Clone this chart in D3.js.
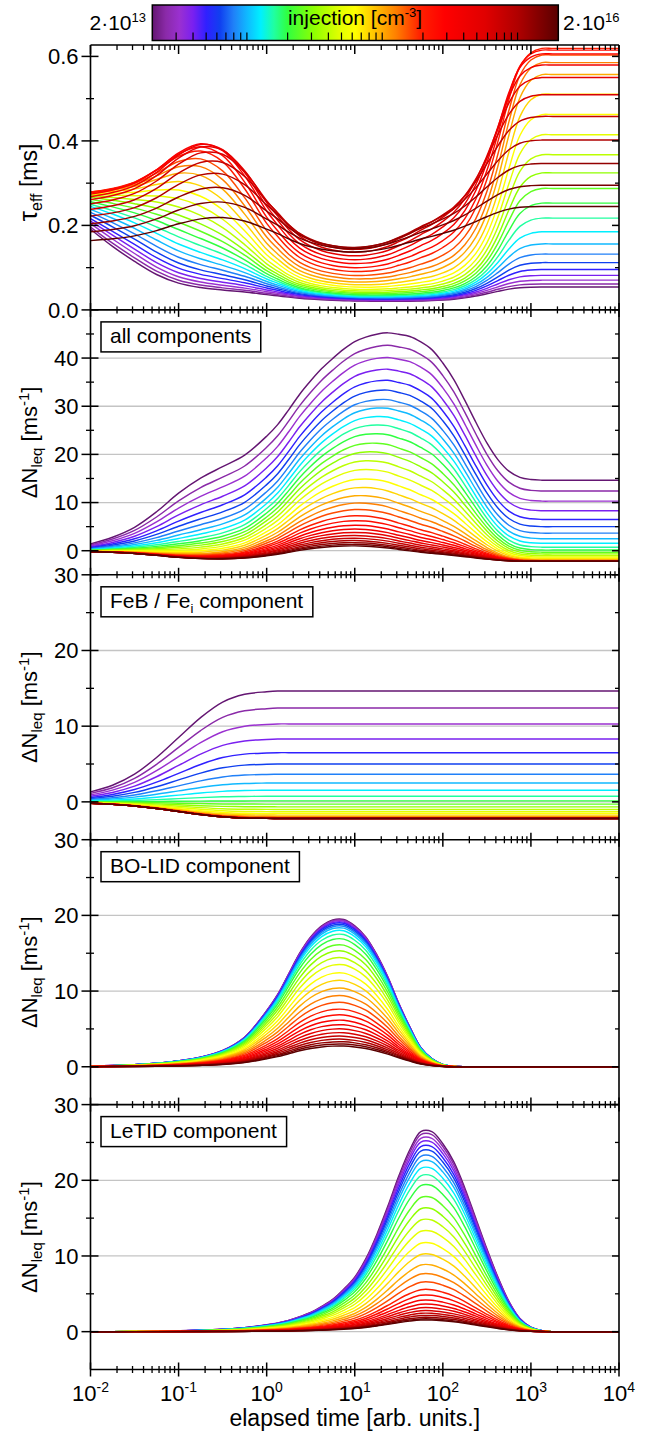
<!DOCTYPE html>
<html>
<head>
<meta charset="utf-8">
<script src="https://cdn.jsdelivr.net/npm/d3@7"></script>
<style>
body { margin: 0; background: #fff; }
svg text, svg tspan { font-family: "Liberation Sans", Arial, sans-serif; fill: #000; }
</style>
</head>
<body>
<svg id="chart" width="652" height="1435"></svg>
<script>
// ---- data ----
// log10 of elapsed time where the curves are sampled
var logT = [-2, -1.75, -1.5, -1.25, -1, -0.75, -0.5, -0.25, 0, 0.125, 0.25, 0.375, 0.5, 0.625, 0.75, 0.875,
            1, 1.125, 1.25, 1.375, 1.5, 1.625, 1.75, 1.875, 2, 2.125, 2.25, 2.375, 2.5, 2.625, 2.75, 2.875,
            3, 3.125, 3.25, 3.5, 4];

// normalised time course of each component panel (same sampling as logT)
var febShape = [0.09, 0.15, 0.25, 0.40, 0.58, 0.76, 0.90, 0.97, 0.993, 1, 1, 1, 1, 1, 1, 1,
                1, 1, 1, 1, 1, 1, 1, 1, 1, 1, 1, 1, 1, 1, 1, 1,
                1, 1, 1, 1, 1];
var boShape = [0.004, 0.008, 0.014, 0.024, 0.04, 0.065, 0.11, 0.2, 0.38, 0.49, 0.63, 0.77, 0.88, 0.955, 0.995, 0.998,
               0.955, 0.88, 0.76, 0.61, 0.43, 0.27, 0.13, 0.055, 0.015, 0.003, 0, 0, 0, 0, 0, 0,
               0, 0, 0, 0, 0];
var letidShape = [0, 0, 0.001, 0.002, 0.004, 0.007, 0.012, 0.02, 0.034, 0.043, 0.056, 0.074, 0.095, 0.125, 0.16, 0.21,
                  0.27, 0.36, 0.48, 0.62, 0.77, 0.9, 0.99, 0.99, 0.93, 0.84, 0.71, 0.56, 0.41, 0.27, 0.15, 0.065,
                  0.022, 0.005, 0, 0, 0];

// time course of the three parts as they show up in the "all components" panel
var febAllShape = [0.09, 0.17, 0.29, 0.48, 0.70, 0.86, 0.95, 0.985, 0.997, 1, 1, 1, 1, 1, 1, 1,
                   1, 1, 1, 1, 1, 1, 1, 1, 1, 1, 1, 1, 1, 1, 1, 1,
                   1, 1, 1, 1, 1];
var letidAllShape = [0, 0.006, 0.013, 0.022, 0.034, 0.045, 0.052, 0.057, 0.066, 0.074, 0.087, 0.106, 0.13, 0.17, 0.22, 0.29,
                     0.38, 0.47, 0.58, 0.70, 0.82, 0.92, 0.98, 0.975, 0.9, 0.78, 0.62, 0.45, 0.29, 0.16, 0.07, 0.022,
                     0.005, 0, 0, 0, 0];

// one entry per injection level, 2e13 ... 2e16 cm^-3 (purple -> dark red)
var tauStart = [0.191, 0.196, 0.204, 0.210, 0.216, 0.224, 0.231, 0.238, 0.245, 0.250, 0.256, 0.262, 0.267, 0.271, 0.274, 0.276,
                0.278, 0.279, 0.279, 0.279, 0.279, 0.277, 0.274, 0.268, 0.261, 0.251, 0.238, 0.222, 0.204, 0.185, 0.164];
var febPlateau = [14.65, 12.4, 10.3, 8.3, 6.5, 5.0, 3.65, 2.5, 1.54, 0.74, 0.13, -0.3, -0.66, -1.0, -1.3, -1.55,
                  -1.75, -1.92, -2.02, -2.08, -2.13, -2.15, -2.17, -2.18, -2.19, -2.2, -2.2, -2.2, -2.2, -2.2, -2.2];
var boPeak = [19.5, 19.4, 19.3, 19.15, 19.0, 18.8, 18.6, 18.35, 18.0, 17.5, 16.9, 16.1, 15.3, 14.4, 13.5, 12.4,
              11.4, 10.4, 9.4, 8.5, 7.6, 6.85, 6.15, 5.55, 5.0, 4.5, 4.05, 3.65, 3.3, 3.0, 2.74];
var letidPeak = [26.7, 26.3, 25.8, 25.3, 24.7, 24.1, 23.4, 22.7, 21.8, 20.8, 19.5, 17.9, 16.4, 14.9, 13.4, 11.8,
                 10.3, 8.9, 7.7, 6.6, 5.6, 4.85, 4.2, 3.65, 3.2, 2.8, 2.45, 2.15, 1.9, 1.7, 1.55];

// colour scale of the injection bar
var cmapStops = [0, 0.033, 0.067, 0.10, 0.133, 0.167, 0.20, 0.233, 0.267, 0.30, 0.333, 0.40, 0.46, 0.50, 0.55, 0.60, 0.66, 0.72, 0.82, 0.90, 1];
var cmapColors = ["#641672", "#8a2aa8", "#9a30d0", "#7a20f0", "#3020ff", "#1040f0", "#2080f8", "#10b8ff", "#00f0ff", "#20ffa0", "#30ff40",
                  "#90ff00", "#e0ff00", "#ffff00", "#ffc000", "#ff8000", "#ff2000", "#ff0000", "#e00000", "#b00000", "#5a0000"];

var yTickTau = [0, 0.2, 0.4, 0.6];
var yTickAll = [0, 10, 20, 30, 40];
var yTickComp = [0, 10, 20, 30];
var xDecades = [-2, -1, 0, 1, 2, 3, 4];

// ---- build series ----
var N = tauStart.length;
var curves = d3.range(N).map(function(i) {
  var feb = febShape.map(function(s) { return febPlateau[i] * s; });
  var bo = boShape.map(function(s) { return boPeak[i] * s; });
  var le = letidShape.map(function(s) { return letidPeak[i] * s; });
  var all = logT.map(function(t, k) {
    return febPlateau[i] * febAllShape[k] + boPeak[i] * boShape[k] + letidPeak[i] * letidAllShape[k];
  });
  var inv0 = 1 / tauStart[i] - all[0];
  var tau = all.map(function(v) { return 1 / (inv0 + v); });
  return { i: i, tau: tau, all: all, feb: feb, bo: bo, le: le };
});

var color = d3.scaleLinear().domain(cmapStops).range(cmapColors).interpolate(d3.interpolateRgb);

// ---- layout ----
var plotL = 90.5, plotR = 619;
var top0 = 45, ph = 264.9;
var x = d3.scaleLog().domain([1e-2, 1e4]).range([plotL, plotR]);
var svg = d3.select("#chart");

var panels = [
  { key: "tau", domain: [0, 0.627], majors: yTickTau, minors: [0.1, 0.3, 0.5], fmt: d3.format(".1f"), grid: [], title: "tau" },
  { key: "all", domain: [-5, 50], majors: yTickAll, minors: [5, 15, 25, 35, 45], fmt: d3.format("d"), grid: [0, 10, 20, 30, 40], label: ["all components"] },
  { key: "feb", domain: [-5, 30], majors: yTickComp, minors: [5, 15, 25], fmt: d3.format("d"), grid: [0, 10, 20], label: ["FeB / Fe", "i", " component"] },
  { key: "bo", domain: [-5, 30], majors: yTickComp, minors: [5, 15, 25], fmt: d3.format("d"), grid: [0, 10, 20], label: ["BO-LID component"] },
  { key: "le", domain: [-5, 30], majors: yTickComp, minors: [5, 15, 25], fmt: d3.format("d"), grid: [0, 10, 20], label: ["LeTID component"] }
];

var defs = svg.append("defs");

panels.forEach(function(p, pi) {
  var top = top0 + pi * ph, bot = top + ph;
  var y = d3.scaleLinear().domain(p.domain).range([bot, top]);
  var g = svg.append("g");

  defs.append("clipPath").attr("id", "clip" + pi)
    .append("rect").attr("x", plotL).attr("y", top).attr("width", plotR - plotL).attr("height", ph);

  g.selectAll(".grid").data(p.grid).enter().append("line")
    .attr("x1", plotL).attr("x2", plotR)
    .attr("y1", function(d) { return y(d); }).attr("y2", function(d) { return y(d); })
    .attr("stroke", "#c4c4c4").attr("stroke-width", 1.3);

  var line = d3.line()
    .x(function(d, k) { return x(Math.pow(10, logT[k])); })
    .y(function(d) { return y(d); })
    .curve(d3.curveCatmullRom.alpha(0.5));

  g.append("g").attr("clip-path", "url(#clip" + pi + ")")
    .selectAll("path").data(curves).enter().append("path")
    .attr("d", function(c) { return line(c[p.key]); })
    .attr("fill", "none")
    .attr("stroke", function(c) { return color(c.i / (N - 1)); })
    .attr("stroke-width", 1.45);

  // left ticks (crossing), right ticks (inward)
  g.selectAll(".maj").data(p.majors).enter().append("line")
    .attr("x1", plotL - 9).attr("x2", plotL + 8)
    .attr("y1", function(d) { return y(d); }).attr("y2", function(d) { return y(d); })
    .attr("stroke", "#000").attr("stroke-width", 1.5);
  g.selectAll(".min").data(p.minors).enter().append("line")
    .attr("x1", plotL - 4.5).attr("x2", plotL + 3.5)
    .attr("y1", function(d) { return y(d); }).attr("y2", function(d) { return y(d); })
    .attr("stroke", "#000").attr("stroke-width", 1.3);
  g.selectAll(".rmaj").data(p.majors).enter().append("line")
    .attr("x1", plotR - 7).attr("x2", plotR)
    .attr("y1", function(d) { return y(d); }).attr("y2", function(d) { return y(d); })
    .attr("stroke", "#000").attr("stroke-width", 1.5);
  g.selectAll(".rmin").data(p.minors).enter().append("line")
    .attr("x1", plotR - 4).attr("x2", plotR)
    .attr("y1", function(d) { return y(d); }).attr("y2", function(d) { return y(d); })
    .attr("stroke", "#000").attr("stroke-width", 1.3);

  g.selectAll(".lab").data(p.majors).enter().append("text")
    .attr("x", plotL - 12).attr("y", function(d) { return y(d); })
    .attr("dy", "0.36em").attr("text-anchor", "end").attr("font-size", 22)
    .text(function(d) { return p.fmt(d); });

  // axis title
  var cy = (top + bot) / 2;
  var t = g.append("text")
    .attr("transform", "translate(37," + (cy + (p.title === "tau" ? 5 : 0)) + ") rotate(-90)")
    .attr("text-anchor", "middle").attr("font-size", 22);
  if (p.title === "tau") {
    t.attr("font-size", 23);
    t.append("tspan").attr("font-size", 26).text("\u03c4");
    t.append("tspan").attr("font-size", 16).attr("dy", 5).text("eff");
    t.append("tspan").attr("dy", -5).text(" [ms]");
  } else {
    t.append("tspan").text("\u0394N");
    t.append("tspan").attr("font-size", 15).attr("dy", 5).text("leq");
    t.append("tspan").attr("dy", -5).text(" [ms");
    t.append("tspan").attr("font-size", 15).attr("dy", -8).text("-1");
    t.append("tspan").attr("dy", 8).text("]");
  }

  // component label box
  if (p.label) {
    var bg = g.append("g");
    var rect = bg.append("rect").attr("fill", "#fff").attr("stroke", "#000").attr("stroke-width", 1.5);
    var lt = bg.append("text").attr("x", 110).attr("y", top + 33.5).attr("font-size", 21);
    lt.append("tspan").text(p.label[0]);
    if (p.label.length > 1) {
      lt.append("tspan").attr("font-size", 13).attr("dy", 5).attr("fill", "#000").text(p.label[1]);
      lt.append("tspan").attr("dy", -5).text(p.label[2]);
    }
    var bb = lt.node().getBBox();
    rect.attr("x", 101).attr("y", top + 12).attr("width", bb.width + 18.5).attr("height", 30);
  }
});

// ---- frame and x ticks ----
var frame = svg.append("g").attr("stroke", "#000").attr("fill", "none");
var bottom = top0 + 5 * ph;
frame.append("line").attr("x1", plotL).attr("x2", plotL).attr("y1", top0).attr("y2", bottom).attr("stroke-width", 1.6);
frame.append("line").attr("x1", plotR).attr("x2", plotR).attr("y1", top0).attr("y2", bottom).attr("stroke-width", 1.6);

var minorX = [];
xDecades.slice(0, -1).forEach(function(e) {
  for (var m = 2; m <= 9; m++) minorX.push(m * Math.pow(10, e));
});
var majorX = xDecades.map(function(e) { return Math.pow(10, e); });

d3.range(6).forEach(function(b) {
  var yb = top0 + b * ph;
  frame.append("line").attr("x1", plotL).attr("x2", plotR).attr("y1", yb).attr("y2", yb).attr("stroke-width", 1.6);
  var up = b === 0 ? 0 : 7, dn = b === 0 ? 9 : 7;
  frame.selectAll(".xm" + b).data(majorX).enter().append("line")
    .attr("x1", function(d) { return x(d); }).attr("x2", function(d) { return x(d); })
    .attr("y1", yb - up).attr("y2", yb + dn).attr("stroke-width", 1.5);
  var up2 = b === 0 ? 0 : 3.5, dn2 = b === 0 ? 5 : 3.5;
  frame.selectAll(".xn" + b).data(minorX).enter().append("line")
    .attr("x1", function(d) { return x(d); }).attr("x2", function(d) { return x(d); })
    .attr("y1", yb - up2).attr("y2", yb + dn2).attr("stroke-width", 1.3);
});

// x tick labels
var xl = svg.selectAll(".xl").data(xDecades).enter().append("text")
  .attr("x", function(e) { return x(Math.pow(10, e)); }).attr("y", bottom + 31)
  .attr("text-anchor", "middle").attr("font-size", 22);
xl.append("tspan").text("10");
xl.append("tspan").attr("font-size", 14).attr("dy", -9).text(function(e) { return e; });

svg.append("text").attr("x", (plotL + plotR) / 2).attr("y", 1426)
  .attr("text-anchor", "middle").attr("font-size", 23).text("elapsed time [arb. units.]");

// ---- colour bar ----
var cbL = 152.3, cbR = 558.3, cbT = 5, cbB = 40.5;
var grad = defs.append("linearGradient").attr("id", "cbar")
  .attr("x1", "0%").attr("x2", "100%").attr("y1", "0%").attr("y2", "0%");
cmapStops.forEach(function(s, k) {
  grad.append("stop").attr("offset", (s * 100) + "%").attr("stop-color", cmapColors[k]);
});
svg.append("rect").attr("x", cbL).attr("y", cbT).attr("width", cbR - cbL).attr("height", cbB - cbT)
  .attr("fill", "url(#cbar)").attr("stroke", "#000").attr("stroke-width", 1.5);

var cb = d3.scaleLog().domain([2e13, 2e16]).range([cbL, cbR]);
var cbTicks = [];
[13, 14, 15].forEach(function(e) {
  for (var m = 1; m <= 10; m++) {
    var v = m * Math.pow(10, e);
    if (v > 2.01e13 && v < 1.99e16 && cbTicks.indexOf(v) < 0) cbTicks.push(v);
  }
});
svg.selectAll(".cbt").data(cbTicks).enter().append("line")
  .attr("x1", function(d) { return cb(d); }).attr("x2", function(d) { return cb(d); })
  .attr("y1", cbB - 8).attr("y2", cbB).attr("stroke", "#000").attr("stroke-width", 1.2);

var cl = svg.append("text").attr("x", 146).attr("y", 30).attr("text-anchor", "end").attr("font-size", 21);
cl.append("tspan").text("2\u00b710");
cl.append("tspan").attr("font-size", 13).attr("dy", -8).text("13");
var cr = svg.append("text").attr("x", 563).attr("y", 30).attr("font-size", 21);
cr.append("tspan").text("2\u00b710");
cr.append("tspan").attr("font-size", 13).attr("dy", -8).text("16");
var ci = svg.append("text").attr("x", 355).attr("y", 25).attr("text-anchor", "middle").attr("font-size", 21);
ci.append("tspan").text("injection [cm");
ci.append("tspan").attr("font-size", 13).attr("dy", -8).text("-3");
ci.append("tspan").attr("dy", 8).text("]");
</script>
</body>
</html>
